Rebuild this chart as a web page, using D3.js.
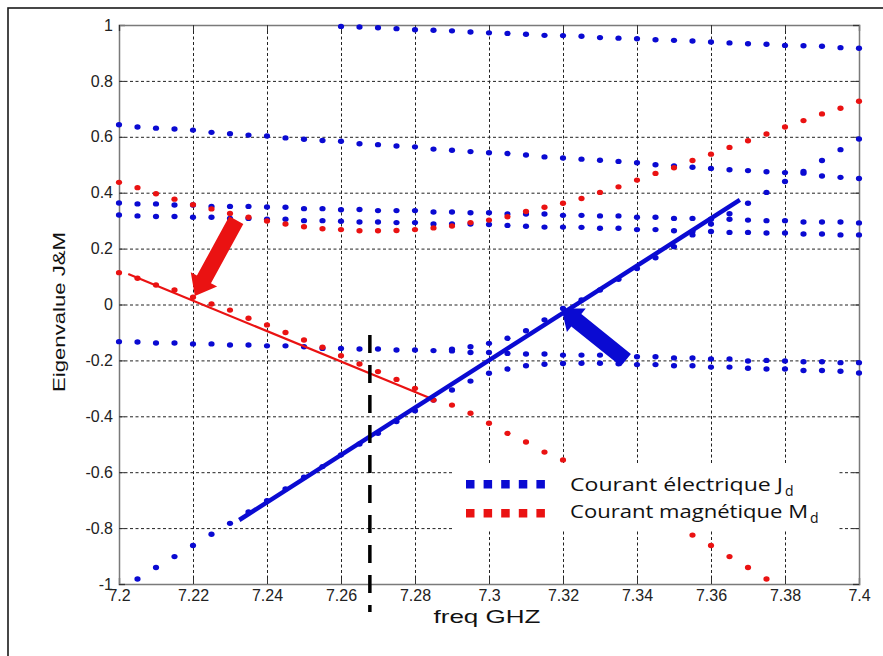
<!DOCTYPE html>
<meta charset="utf-8">
<style>
  body { margin: 0; background: #fff; }
</style>

<!-- Load d3.js -->
<script src="https://d3js.org/d3.v7.min.js"></script>

<div id="chart"></div>

<script>

  // frequency samples (GHz)
  var freq = [7.2, 7.205, 7.21, 7.215, 7.22, 7.225, 7.23, 7.235, 7.24, 7.245,
              7.25, 7.255, 7.26, 7.265, 7.27, 7.275, 7.28, 7.285, 7.29, 7.295,
              7.3, 7.305, 7.31, 7.315, 7.32, 7.325, 7.33, 7.335, 7.34, 7.345,
              7.35, 7.355, 7.36, 7.365, 7.37, 7.375, 7.38, 7.385, 7.39, 7.395, 7.4];

  // electric current eigenvalues (blue)
  var bTop = [null, null, null, null, null, null, null, null, null, null, null, null,
              0.995, 0.993, 0.990, 0.987, 0.983, 0.981, 0.979, 0.975, 0.972, 0.970,
              0.967, 0.963, 0.962, 0.960, 0.955, 0.953, 0.951, 0.947, 0.945, 0.943,
              0.939, 0.936, 0.933, 0.931, 0.927, 0.926, 0.924, 0.919, 0.917];
  var b064 = [0.643, 0.635, 0.631, 0.628, 0.624, 0.616, 0.611, 0.606, 0.603, 0.596,
              0.591, 0.587, 0.584, 0.575, 0.572, 0.567, 0.564, 0.556, 0.552, 0.547,
              0.543, 0.540, 0.535, 0.528, 0.524, 0.520, 0.516, 0.512, 0.507, 0.500,
              0.496, 0.491, 0.487, 0.482, 0.479, 0.475, 0.472, 0.470, 0.460, 0.455, 0.451];
  var b036 = [0.363, 0.360, 0.360, 0.356, 0.356, 0.351, 0.351, 0.351, 0.349, 0.348,
              0.343, 0.343, 0.339, 0.340, 0.336, 0.336, 0.336, 0.331, 0.331, 0.328,
              0.328, 0.324, 0.324, 0.324, 0.319, 0.319, 0.317, 0.317, 0.312, 0.312,
              0.308, 0.308, 0.305, 0.305, 0.302, 0.300, 0.300, 0.295, 0.295, 0.295, 0.292];
  var b032 = [0.320, 0.317, 0.315, 0.315, 0.312, 0.312, 0.308, 0.308, 0.305, 0.305,
              0.300, 0.300, 0.298, 0.295, 0.295, 0.293, 0.293, 0.288, 0.288, 0.288,
              0.286, 0.283, 0.280, 0.277, 0.277, 0.276, 0.273, 0.273, 0.268, 0.268,
              0.264, 0.261, 0.261, 0.258, 0.258, 0.256, 0.256, 0.252, 0.252, 0.249, 0.249];
  var bA = [-0.133, -0.134, -0.138, -0.138, -0.141, -0.141, -0.145, -0.145, -0.148, -0.148,
            -0.151, -0.157, -0.157, -0.159, -0.159, -0.163, -0.163, -0.165, -0.160, -0.151,
            -0.139, -0.121, -0.094, -0.055, -0.014, 0.016, 0.052, 0.090, 0.129, 0.167,
            0.207, 0.249, 0.288, 0.325, 0.362, 0.401, 0.440, 0.476, 0.515, 0.554, 0.592];
  var bB = [null, null, null, null, null, null, null, null, null, null,
            null, null, null, null, null, null, null, null, -0.166, -0.172,
            -0.172, -0.175, -0.177, -0.177, -0.181, -0.181, -0.181, -0.184, -0.187, -0.187,
            -0.191, -0.191, -0.195, -0.195, -0.202, -0.200, -0.202, -0.205, -0.205, -0.208, -0.208];
  var bR = [null, -0.982, -0.941, -0.902, -0.862, -0.822, -0.783, -0.742, -0.702, -0.660,
            -0.618, -0.580, -0.538, -0.499, -0.461, -0.419, -0.380, -0.342, -0.306, -0.274,
            -0.246, -0.231, -0.219, -0.214, -0.211, -0.210, -0.210, -0.212, -0.215, -0.215,
            -0.219, -0.219, -0.224, -0.224, -0.228, -0.231, -0.231, -0.236, -0.236, -0.239, -0.245];

  // magnetic current eigenvalues (red)
  var rU = [0.437, 0.418, 0.396, 0.377, 0.357, 0.342, 0.326, 0.312, 0.299, 0.288,
            0.278, 0.271, 0.268, 0.264, 0.264, 0.265, 0.268, 0.274, 0.281, 0.293,
            0.302, 0.314, 0.333, 0.348, 0.362, 0.379, 0.401, 0.421, 0.445, 0.469,
            0.489, 0.515, 0.538, 0.562, 0.586, 0.610, 0.635, 0.658, 0.682, 0.702, 0.727];
  var rL = [0.114, 0.094, 0.070, 0.052, 0.026, 0.002, -0.020, -0.049, -0.073, -0.100,
            -0.127, -0.153, -0.183, -0.213, -0.240, -0.268, -0.300, -0.342, -0.360, -0.389,
            -0.425, -0.461, -0.492, -0.528, -0.556, null, null, null, null, null,
            null, -0.825, -0.862, -0.902, -0.941, -0.982, null, null, null, null, null];

  // fitted lines, resonance marker and arrows (freq, value)
  var redFit = [[7.2025, 0.109], [7.2853, -0.342]];
  var blueFit = [[7.2325, -0.771], [7.3678, 0.374]];
  var markerFreq = 7.2678, markerTop = -0.109, markerBottom = -1.1;
  var redArrow = [[7.2317, 0.302], [7.2205, 0.030]];
  var blueArrow = [[7.337, -0.199], [7.3196, -0.014]];

  var xTicks = [7.2, 7.22, 7.24, 7.26, 7.28, 7.3, 7.32, 7.34, 7.36, 7.38, 7.4];
  var yTicks = [-1, -0.8, -0.6, -0.4, -0.2, 0, 0.2, 0.4, 0.6, 0.8, 1];
  var legendLabels = [["Courant électrique J", "d"], ["Courant magnétique M", "d"]];

  var BLUE = "#0a0ad2", RED = "#ea1212";

  // set the dimensions and margins of the graph
  var margin = {top: 25, right: 24, bottom: 72, left: 119},
    width = 740,
    height = 559;

  var svg = d3.select("#chart")
    .append("svg")
    .attr("width", 883)
    .attr("height", 656);

  // outer frame
  svg.append("rect")
    .attr("x", 8).attr("y", 8)
    .attr("width", 900).attr("height", 700)
    .attr("fill", "none")
    .attr("stroke", "#1a1a1a")
    .attr("stroke-width", 1.6);

  var g = svg.append("g")
    .attr("transform", "translate(" + margin.left + "," + margin.top + ")");

  var x = d3.scaleLinear().domain([7.2, 7.4]).range([0, width]);
  var y = d3.scaleLinear().domain([-1, 1]).range([height, 0]);

  // dotted grid
  g.append("g")
    .attr("class", "grid")
    .attr("transform", "translate(0," + height + ")")
    .call(d3.axisBottom(x).tickValues(xTicks).tickSize(-height).tickFormat(""));
  g.append("g")
    .attr("class", "grid")
    .call(d3.axisLeft(y).tickValues(yTicks).tickSize(-width).tickFormat(""));
  g.selectAll(".grid .domain").remove();
  g.selectAll(".grid line")
    .attr("stroke", "#222")
    .attr("stroke-width", 1)
    .attr("stroke-dasharray", "3,2.5");

  // axes, ticks pointing inward (Matlab style)
  var fmt = function (d) { return String(d); };
  var xAxis = g.append("g")
    .attr("transform", "translate(0," + height + ")")
    .call(d3.axisBottom(x).tickValues(xTicks).tickSize(-6).tickPadding(6).tickFormat(fmt));
  var yAxis = g.append("g")
    .call(d3.axisLeft(y).tickValues(yTicks).tickSize(-6).tickPadding(6).tickFormat(fmt));
  g.append("g")
    .call(d3.axisTop(x).tickValues(xTicks).tickSize(-6).tickFormat(""));
  g.append("g")
    .attr("transform", "translate(" + width + ",0)")
    .call(d3.axisRight(y).tickValues(yTicks).tickSize(-6).tickFormat(""));

  g.selectAll(".domain").attr("stroke", "#7a7a7a").attr("stroke-width", 1.5);
  g.selectAll(".tick line").filter(function () { return !this.closest(".grid"); })
    .attr("stroke", "#333");
  g.selectAll(".tick text")
    .attr("fill", "#222")
    .style("font-family", "'Liberation Sans', Arial, sans-serif")
    .style("font-size", "16px");

  // data points
  var blueSeries = [bTop, b064, b036, b032, bA, bB, bR];
  var redSeries = [rU, rL];

  function pts(s) {
    return freq.map(function (f, i) { return {f: f, v: s[i]}; })
      .filter(function (d) { return d.v !== null; });
  }

  function drawDots(series, color) {
    series.forEach(function (s) {
      g.append("g").selectAll("ellipse")
        .data(pts(s))
        .enter()
        .append("ellipse")
        .attr("cx", function (d) { return x(d.f); })
        .attr("cy", function (d) { return y(d.v); })
        .attr("rx", 3.1)
        .attr("ry", 2.7)
        .attr("fill", color);
    });
  }
  drawDots(blueSeries, BLUE);
  drawDots(redSeries, RED);

  // fitted lines
  var line = d3.line()
    .x(function (d) { return x(d[0]); })
    .y(function (d) { return y(d[1]); });

  g.append("path")
    .datum(redFit)
    .attr("d", line)
    .attr("stroke", RED)
    .attr("stroke-width", 2.2)
    .attr("fill", "none");

  g.append("path")
    .datum(blueFit)
    .attr("d", line)
    .attr("stroke", BLUE)
    .attr("stroke-width", 4.5)
    .attr("fill", "none");

  // resonance marker
  g.append("line")
    .attr("x1", x(markerFreq)).attr("x2", x(markerFreq))
    .attr("y1", y(markerTop)).attr("y2", y(markerBottom))
    .attr("stroke", "#000")
    .attr("stroke-width", 3.5)
    .attr("stroke-dasharray", "18,12");

  // block arrows
  function arrow(a, color) {
    var x0 = x(a[0][0]), y0 = y(a[0][1]), x1 = x(a[1][0]), y1 = y(a[1][1]);
    var len = Math.hypot(x1 - x0, y1 - y0);
    var ux = (x1 - x0) / len, uy = (y1 - y0) / len;
    var px = -uy, py = ux;
    var sw = 8, hw = 15, hl = 19;
    var bx = x1 - ux * hl, by = y1 - uy * hl;
    var poly = [
      [x0 + px * sw, y0 + py * sw],
      [bx + px * sw, by + py * sw],
      [bx + px * hw, by + py * hw],
      [x1, y1],
      [bx - px * hw, by - py * hw],
      [bx - px * sw, by - py * sw],
      [x0 - px * sw, y0 - py * sw]
    ];
    g.append("polygon")
      .attr("points", poly.map(function (p) { return p.join(","); }).join(" "))
      .attr("fill", color);
  }
  arrow(redArrow, RED);
  arrow(blueArrow, BLUE);

  // legend box
  var leg = svg.append("g").attr("transform", "translate(452,463)");
  leg.append("rect")
    .attr("width", 387).attr("height", 68)
    .attr("fill", "#fff");

  var legWidths = [213, 238];
  [BLUE, RED].forEach(function (c, r) {
    leg.append("g").selectAll("rect")
      .data([0, 1, 2, 3, 4])
      .enter()
      .append("rect")
      .attr("x", function (d) { return 14 + d * 17.6; })
      .attr("y", 17 + r * 29)
      .attr("width", 8.5)
      .attr("height", 8.5)
      .attr("fill", c);

    var t = leg.append("text")
      .attr("x", 118)
      .attr("y", 28 + r * 27)
      .style("font-family", "'Open Sans', sans-serif")
      .style("font-size", "18px")
      .attr("fill", "#111");
    t.append("tspan")
      .attr("textLength", legWidths[r])
      .attr("lengthAdjust", "spacingAndGlyphs")
      .text(legendLabels[r][0]);
    t.append("tspan")
      .attr("dx", 2)
      .attr("dy", 5)
      .style("font-size", "14px")
      .text(legendLabels[r][1]);
  });

  // axis titles
  svg.append("text")
    .attr("text-anchor", "middle")
    .attr("x", 487)
    .attr("y", 623)
    .attr("textLength", 107)
    .attr("lengthAdjust", "spacingAndGlyphs")
    .style("font-family", "'Liberation Sans', Arial, sans-serif")
    .style("font-size", "19px")
    .attr("fill", "#111")
    .text("freq GHZ");

  svg.append("text")
    .attr("text-anchor", "middle")
    .attr("transform", "translate(64.5,312) rotate(-90)")
    .attr("textLength", 160)
    .attr("lengthAdjust", "spacingAndGlyphs")
    .style("font-family", "'Liberation Sans', Arial, sans-serif")
    .style("font-size", "16px")
    .attr("fill", "#111")
    .text("Eigenvalue J&M");

</script>
